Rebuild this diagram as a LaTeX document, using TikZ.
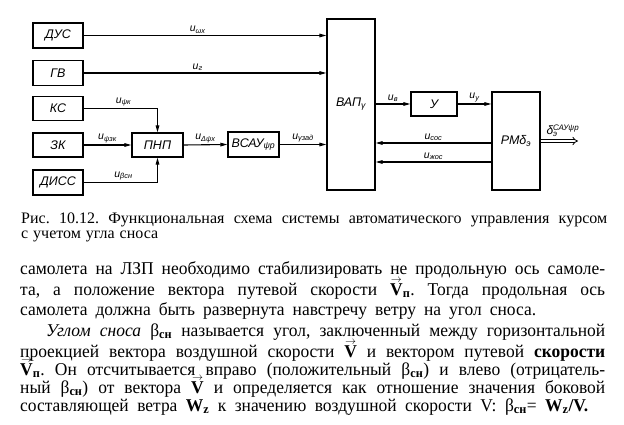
\documentclass[tikz,border=0pt]{standalone}
\usepackage{fontspec}
\usepackage{graphicx}
\setmainfont{Liberation Serif}
\newfontfamily\bodyfont{Liberation Serif}[FakeStretch=0.97]
\newfontfamily\capfont{Liberation Serif}
\newfontfamily\dg{Liberation Sans}
\usetikzlibrary{arrows.meta}
\frenchspacing
\newsavebox\lnbox
\newcommand\fitto[2]{\sbox\lnbox{#2}\ifdim\wd\lnbox<#1\relax\makebox[#1][s]{#2}\else\resizebox{#1}{\height}{\usebox\lnbox}\fi}
\newsavebox\vbx
\newcommand\vecV{\leavevmode\sbox\vbx{\textbf{V}}\makebox[\wd\vbx]{\smash{\raisebox{0.72em}{\fontsize{11}{11}\selectfont$\rightarrow$}}}\kern-\wd\vbx\usebox\vbx}
\newcommand\lsub[1]{\textsubscript{#1}}
\begin{document}
\begin{tikzpicture}[x=1pt,y=-1pt,
  blk/.style={draw,line width=1.3pt,inner sep=0pt,font=\dg\itshape\fontsize{12.5}{13}\selectfont},
  sig/.style={-{Triangle[length=7pt,width=3.6pt]},line width=1.1pt},
  lab/.style={font=\dg\itshape\fontsize{10.5}{10}\selectfont,inner sep=1.5pt},
  txt/.style={anchor=base west,inner sep=0pt,font=\bodyfont\fontsize{18}{20}\selectfont},
  captxt/.style={anchor=base west,inner sep=0pt,font=\capfont\fontsize{16}{17}\selectfont}]
\useasboundingbox (0,0) rectangle (624,425);
% blocks
\node[blk,minimum width=50pt,minimum height=25pt] (dus) at (58,35.5) {ДУС};
\node[blk,minimum width=50pt,minimum height=25pt] (gv) at (58,73) {ГВ};
\node[blk,minimum width=50pt,minimum height=24pt] (ks) at (58,108.5) {КС};
\node[blk,minimum width=50pt,minimum height=24pt] (zk) at (58,145) {ЗК};
\node[blk,minimum width=50pt,minimum height=25pt] (diss) at (58,182.5) {ДИСС};
\node[blk,minimum width=51pt,minimum height=24pt] (pnp) at (157.5,145) {ПНП};
\node[blk,minimum width=51pt,minimum height=25pt] (vsau) at (253.5,144.5) {ВСАУ\lsub{ψр}};
\node[blk,minimum width=48pt,minimum height=171pt] (vap) at (351,104.5) {ВАП\lsub{γ}};
\node[blk,minimum width=46pt,minimum height=24pt] (u) at (434,104) {У};
\node[blk,minimum width=48pt,minimum height=98pt] (rm) at (516,141) {РМδ\lsub{э}};
\coordinate (out) at (578,141);
% connectors
\draw[sig] (dus.east) -- (dus.east -| vap.west) node[lab,pos=0.47,above]{u\lsub{ωx}};
\draw[sig] (gv.east) -- (gv.east -| vap.west) node[lab,pos=0.47,above]{u\lsub{г}};
\draw[sig] (ks.east) -| (pnp.north) node[lab,pos=0.27,above]{u\lsub{ψк}};
\draw[sig] (zk.east) -- (pnp.west) node[lab,midway,above]{u\lsub{ψзк}};
\draw[sig] (diss.east) -| (pnp.south) node[lab,pos=0.27,above]{u\lsub{βсн}};
\draw[sig] (pnp.east) -- (vsau.west) node[lab,midway,above]{u\lsub{Δψx}};
\draw[sig] (vsau.east) -- (vsau.east -| vap.west) node[lab,midway,above]{u\lsub{γзад}};
\draw[sig] (u.west -| vap.east) -- (u.west) node[lab,midway,above]{u\lsub{в}};
\draw[sig] (u.east) -- (u.east -| rm.west) node[lab,midway,above]{u\lsub{у}};
\draw[sig] ([yshift=-2pt]rm.west) -- ([yshift=-2pt]rm.west -| vap.east) node[lab,midway,above]{u\lsub{сос}};
\draw[sig] ([yshift=-21pt]rm.west) -- ([yshift=-21pt]rm.west -| vap.east) node[lab,midway,above]{u\lsub{жос}};
\draw[double,double distance=2pt,line width=0.8pt,-{Implies}] (rm.east) -- (out)
  node[pos=0.12,anchor=south west,yshift=3pt,font=\dg\itshape\fontsize{12}{12}\selectfont,inner sep=1pt]{δ\rlap{\lsub{э}}\textsuperscript{САУψр}};
% caption
\node[captxt] (c1) at (21,223) {\fitto{586pt}{Рис. 10.12. Функциональная схема системы автоматического управления курсом}};
\node[captxt] (c2) at (21,238) {\fitto{137pt}{с учетом угла сноса}};
% body text
\node[txt] (t1) at (20,274) {\fitto{585pt}{самолета на ЛЗП необходимо стабилизировать не продольную ось самоле-}};
\node[txt] (t2) at (20,295) {\fitto{585pt}{та, а положение вектора путевой скорости \vecV\lsub{\textbf{п}}. Тогда продольная ось}};
\node[txt] (t3) at (20,315) {\fitto{516pt}{самолета должна быть развернута навстречу ветру на угол сноса.}};
\node[txt] (t4) at (46,336) {\fitto{559pt}{\textit{Углом сноса} β\lsub{\textbf{сн}} называется угол, заключенный между горизонтальной}};
\node[txt] (t5) at (20,357) {\fitto{585pt}{проекцией вектора воздушной скорости \vecV{} и вектором путевой \textbf{скорости}}};
\node[txt] (t6) at (20,375) {\fitto{585pt}{\vecV\lsub{\textbf{п}}. Он отсчитывается вправо (положительный β\lsub{\textbf{сн}}) и влево (отрицатель-}};
\node[txt] (t7) at (20,393) {\fitto{585pt}{ный β\lsub{\textbf{сн}}) от вектора \vecV{} и определяется как отношение значения боковой}};
\node[txt] (t8) at (20,411) {\fitto{568pt}{составляющей ветра \textbf{W\lsub{z}} к значению воздушной скорости V: β\lsub{\textbf{сн}}= \textbf{W\lsub{z}/V.}}};
\end{tikzpicture}
\end{document}
